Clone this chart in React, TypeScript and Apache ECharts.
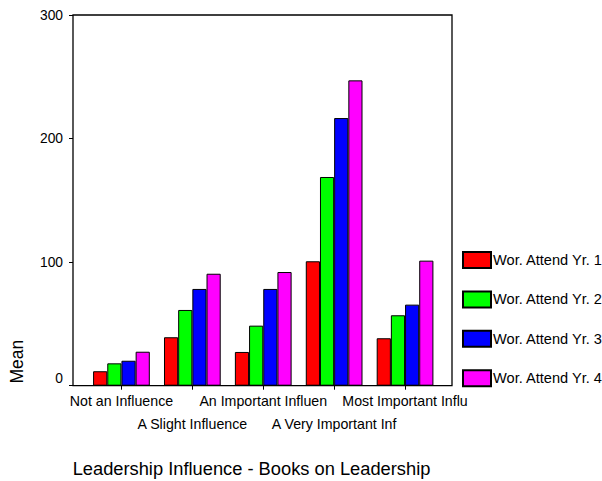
import React, { useEffect, useRef } from 'react';
import * as echarts from 'echarts';

const categories = [
  'Not an Influence',
  'A Slight Influence',
  'An Important Influen',
  'A Very Important Inf',
  'Most Important Influ',
];
const seriesNames = ['Wor. Attend Yr. 1', 'Wor. Attend Yr. 2', 'Wor. Attend Yr. 3', 'Wor. Attend Yr. 4'];
const yr1 = [11.7, 39.2, 27.3, 100.7, 38.4];
const yr2 = [18.1, 61.3, 48.6, 168.9, 57.0];
const yr3 = [20.2, 78.3, 78.3, 216.6, 65.6];
const yr4 = [27.5, 90.6, 92.0, 247.1, 101.2];
const seriesValues = [yr1, yr2, yr3, yr4];
const colors = ['#ff0000', '#00ff00', '#0000ff', '#ff00ff'];
const yAxisName = 'Mean';
const xAxisTitle = 'Leadership Influence - Books on Leadership';

const FONT = "'Liberation Sans', Arial, sans-serif";

export default function App() {
  const ref = useRef<HTMLDivElement>(null);
  useEffect(() => {
    if (!ref.current) return;
    const chart = echarts.init(ref.current, undefined, { renderer: 'svg' });
    chart.setOption({
      animation: false,
      backgroundColor: '#ffffff',
      textStyle: { fontFamily: FONT },
      grid: { left: 86, top: 15, width: 354.5, height: 370.7, containLabel: false },
      legend: {
        orient: 'vertical',
        left: 462,
        top: 251,
        itemWidth: 28,
        itemHeight: 16,
        itemGap: 21.4,
        padding: 0,
        icon: 'rect',
        textStyle: {
          fontSize: 14.6,
          color: '#000',
          fontFamily: FONT,
          padding: [0, 0, 0, -3],
        },
        data: seriesNames,
      },
      xAxis: {
        type: 'category',
        data: categories,
        axisLine: { show: false },
        axisTick: { show: true, alignWithLabel: true, length: 4, lineStyle: { color: '#000' } },
        axisLabel: {
          interval: 0,
          margin: 4,
          fontSize: 14.2,
          lineHeight: 22.6,
          color: '#000',
          fontFamily: FONT,
          formatter: (v: string, i: number) => (i % 2 ? '\n' + v : v),
        },
      },
      yAxis: {
        type: 'value',
        min: 0,
        max: 300,
        interval: 100,
        offset: 13,
        splitLine: { show: false },
        axisLine: { show: false },
        axisTick: { show: true, length: 4, lineStyle: { color: '#000' } },
        axisLabel: {
          fontSize: 13.8,
          color: '#000',
          margin: 10,
          fontFamily: FONT,
          formatter: (v: number) => (v === 0 ? '{z|0}' : String(v)),
          rich: {
            z: { fontSize: 13.8, fontFamily: FONT, color: '#000', padding: [0, 0, 15, 0] },
          },
        },
      },
      series: seriesValues.map((vals, k) => ({
        type: 'bar',
        name: seriesNames[k],
        data: vals,
        barGap: '0%',
        barCategoryGap: '20%',
        itemStyle: { color: colors[k], borderColor: '#000', borderWidth: 1 },
      })),
      graphic: [
        {
          type: 'rect',
          shape: { x: 73, y: 15, width: 379, height: 370.7 },
          style: { fill: 'none', stroke: '#000', lineWidth: 1.3 },
          z: 100,
        },
        {
          type: 'text',
          x: 17,
          y: 361.7,
          rotation: Math.PI / 2,
          style: {
            text: yAxisName,
            fontSize: 17.5,
            fontFamily: FONT,
            fill: '#000',
            textAlign: 'center',
            textVerticalAlign: 'middle',
          },
        },
        {
          type: 'text',
          x: 251.5,
          y: 468.5,
          style: {
            text: xAxisTitle,
            fontSize: 18.3,
            fontFamily: FONT,
            fill: '#000',
            textAlign: 'center',
            textVerticalAlign: 'middle',
          },
        },
      ],
    });
    return () => chart.dispose();
  }, []);
  return (
    <div
      ref={ref}
      style={{ position: 'fixed', left: 0, top: 0, width: 602, height: 481 }}
    />
  );
}
